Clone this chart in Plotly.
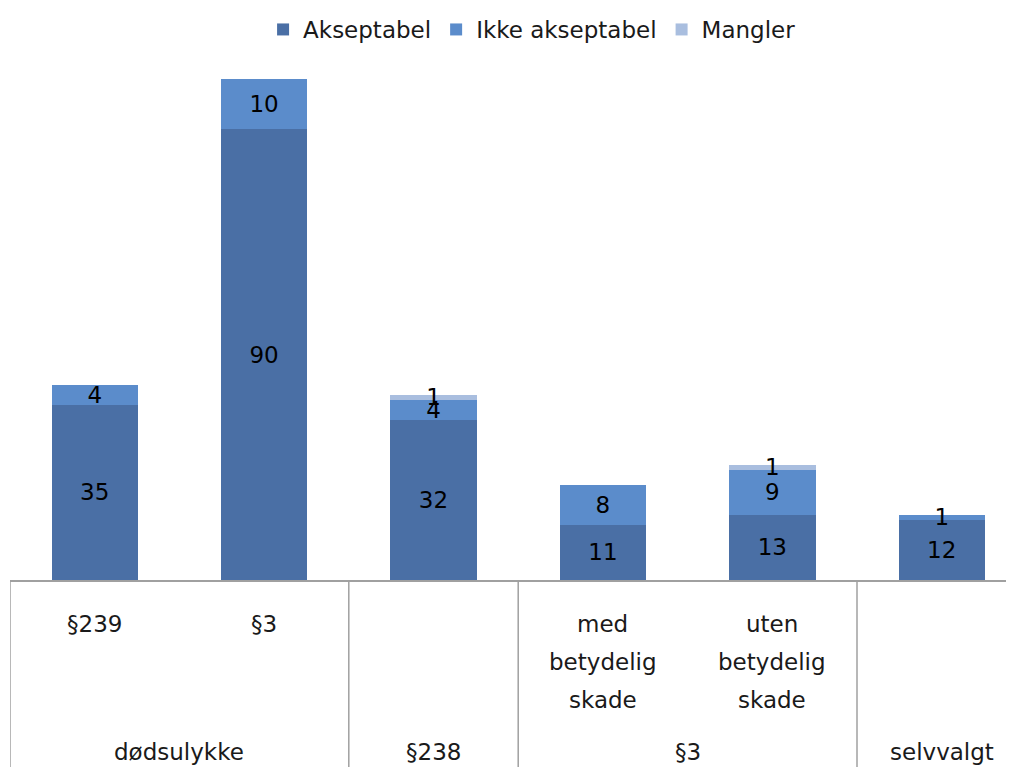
import plotly.graph_objects as go

# ---- data ----
sub_labels = [["§239"], ["§3"], [], ["med", "betydelig", "skade"], ["uten", "betydelig", "skade"], []]
groups = ["dødsulykke", "§238", "§3", "selvvalgt"]
group_members = [[0, 1], [2], [3, 4], [5]]
series_names = ["Akseptabel", "Ikke akseptabel", "Mangler"]
akseptabel = [35, 90, 32, 11, 13, 12]
ikke_akseptabel = [4, 10, 4, 8, 9, 1]
mangler = [None, None, 1, None, 1, None]
colors = ["#4A6FA5", "#5B8CCB", "#A9BEDF"]

FONT = "DejaVu Sans"
FS = 23
# page has an 8px body margin; size the figure so the visible window matches
W, H = 1006, 759
M_L, M_R, M_T, M_B = 2, 0, 42, 187
plot_h = H - M_T - M_B
PX_PER_UNIT = 5.02

x = list(range(len(akseptabel)))

fig = go.Figure()
for name, vals, col in zip(series_names, [akseptabel, ikke_akseptabel, mangler], colors):
    fig.add_trace(go.Bar(
        x=x, y=vals, name=name, marker_color=col, marker_line_width=0,
        width=0.51,
        text=[("" if v is None else str(v)) for v in vals],
        textposition="inside", insidetextanchor="middle", textangle=0,
        textfont=dict(family=FONT, size=FS, color="#000000"),
        hoverinfo="skip",
    ))

# sub-category labels (first level)
line_gap = 38
for i, lines in enumerate(sub_labels):
    for j, t in enumerate(lines):
        fig.add_annotation(x=i, y=0, xref="x", yref="paper", text=t, showarrow=False,
                           yanchor="middle", yshift=-(44 + line_gap * j),
                           font=dict(family=FONT, size=FS, color="#1a1a1a"))

# group labels (second level)
for g, members in zip(groups, group_members):
    cx = sum(members) / len(members)
    fig.add_annotation(x=cx, y=0, xref="x", yref="paper", text=g, showarrow=False,
                       yanchor="middle", yshift=-172,
                       font=dict(family=FONT, size=FS, color="#1a1a1a"))

# group dividers
y_bottom = -(M_B + 10) / plot_h
for members in group_members:
    edge = min(members) - 0.5
    fig.add_shape(type="line", xref="x", yref="paper", x0=edge, x1=edge, y0=0, y1=y_bottom,
                  line=dict(color="#A0A0A0", width=1.5))

span = (W - M_L - M_R) / 169.4
fig.update_layout(
    width=W, height=H,
    margin=dict(l=M_L, r=M_R, t=M_T, b=M_B),
    barmode="stack",
    plot_bgcolor="white", paper_bgcolor="white",
    font=dict(family=FONT, size=FS, color="#1a1a1a"),
    uniformtext=dict(minsize=FS, mode="show"),
    showlegend=True,
    legend=dict(orientation="h", x=0.52, xanchor="center", y=1.0, yanchor="top",
                yref="container",
                font=dict(family=FONT, size=FS, color="#1a1a1a"),
                itemwidth=30, traceorder="normal"),
    xaxis=dict(range=[-0.5, -0.5 + span], showticklabels=False, ticks="",
               showgrid=False, zeroline=False, showline=True, linecolor="#A0A0A0", linewidth=1.5,
               fixedrange=True),
    yaxis=dict(range=[0, plot_h / PX_PER_UNIT], visible=False, showgrid=False, fixedrange=True),
)

fig.write_html("out.html")
